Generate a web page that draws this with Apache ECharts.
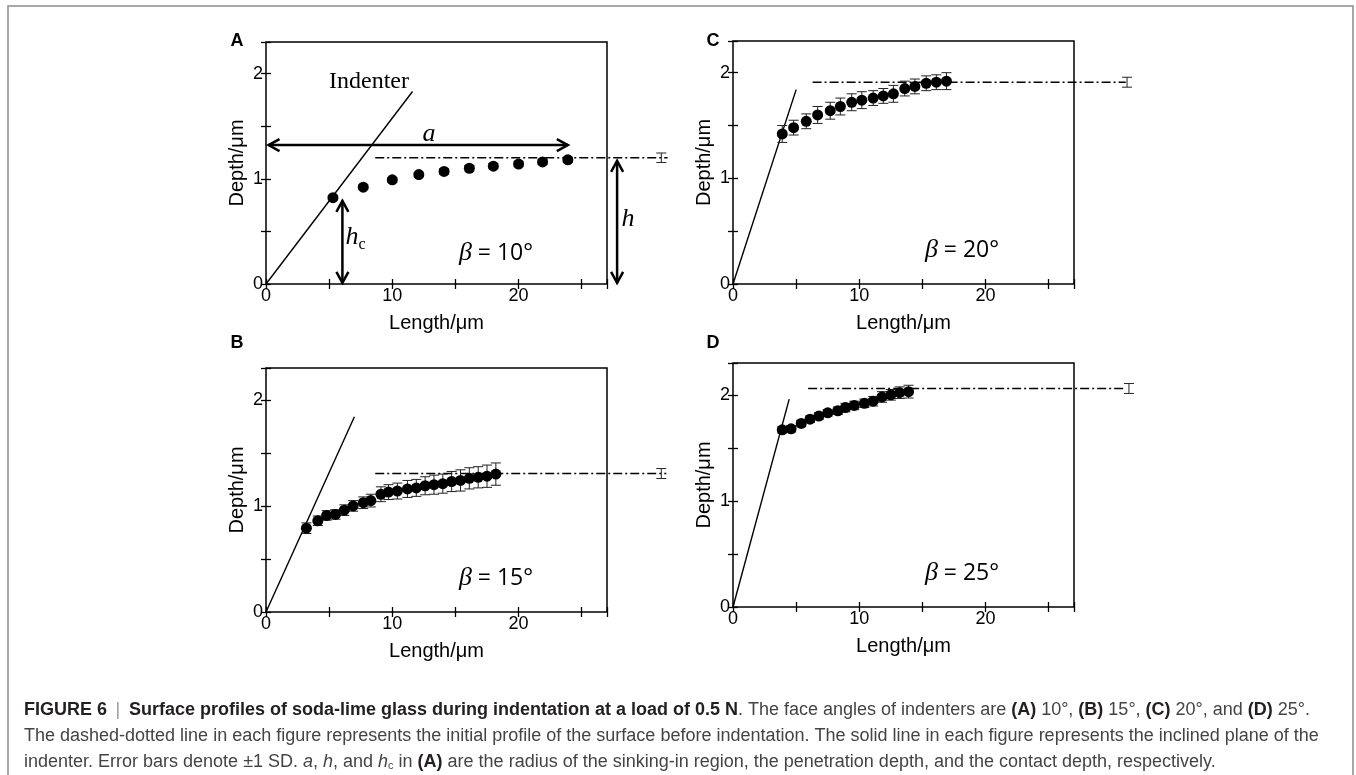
<!DOCTYPE html>
<html>
<head>
<meta charset="utf-8">
<script src="https://cdn.jsdelivr.net/npm/echarts@6/dist/echarts.min.js"></script>
<style>
  html, body { margin: 0; padding: 0; background: #fff; }
  #chart { width: 1356px; height: 775px; }
</style>
</head>
<body>
<div id="chart"></div>
<script>
// ---- data (x = Length/um, y = Depth/um) ----
const lenA = [5.3, 7.7, 10.0, 12.1, 14.1, 16.1, 18.0, 20.0, 21.9, 23.9]
const depA = [0.82, 0.92, 0.99, 1.04, 1.07, 1.10, 1.12, 1.14, 1.16, 1.18]
const sdA = [0.02, 0.02, 0.02, 0.02, 0.025, 0.025, 0.025, 0.025, 0.025, 0.025]

const lenB = [3.2, 4.1, 4.8, 5.5, 6.2, 6.9, 7.7, 8.3, 9.1, 9.7, 10.4, 11.2, 11.9, 12.6, 13.3, 14.0, 14.7, 15.4, 16.1, 16.8, 17.5, 18.2]
const depB = [0.79, 0.86, 0.91, 0.92, 0.96, 1.00, 1.03, 1.05, 1.11, 1.13, 1.14, 1.16, 1.17, 1.19, 1.20, 1.21, 1.23, 1.24, 1.26, 1.27, 1.28, 1.30]
const sdB = [0.05, 0.045, 0.045, 0.045, 0.05, 0.05, 0.055, 0.06, 0.07, 0.07, 0.075, 0.08, 0.08, 0.085, 0.09, 0.09, 0.095, 0.10, 0.10, 0.10, 0.105, 0.105]

const lenC = [3.9, 4.8, 5.8, 6.7, 7.7, 8.5, 9.4, 10.2, 11.1, 11.9, 12.7, 13.6, 14.4, 15.3, 16.1, 16.9]
const depC = [1.42, 1.48, 1.54, 1.60, 1.64, 1.68, 1.72, 1.74, 1.76, 1.78, 1.80, 1.85, 1.87, 1.90, 1.91, 1.92]
const sdC = [0.08, 0.07, 0.07, 0.08, 0.08, 0.08, 0.08, 0.08, 0.07, 0.07, 0.08, 0.07, 0.07, 0.07, 0.07, 0.08]

const lenD = [3.9, 4.6, 5.4, 6.1, 6.8, 7.5, 8.3, 8.9, 9.6, 10.4, 11.1, 11.8, 12.5, 13.2, 13.9]
const depD = [1.67, 1.68, 1.73, 1.77, 1.80, 1.83, 1.85, 1.88, 1.90, 1.92, 1.94, 1.98, 2.00, 2.02, 2.03]
const sdD = [0.03, 0.03, 0.03, 0.03, 0.03, 0.03, 0.035, 0.04, 0.04, 0.04, 0.045, 0.05, 0.05, 0.055, 0.06]

// indenter plane: from origin to this end point
const indenterEnd = { A: [11.6, 1.83], B: [7.0, 1.84], C: [5.0, 1.84], D: [4.45, 1.96] }
// initial surface (dash-dot): [xStart, xEnd, depth]
const surface = { A: [8.65, 31.8, 1.20], B: [8.65, 31.7, 1.305], C: [6.3, 31.1, 1.91], D: [5.95, 30.95, 2.06] }
// SD bar of the initial surface: [x, depth, sd]
const surfaceSd = { A: [31.3, 1.20, 0.045], B: [31.3, 1.305, 0.047], C: [31.2, 1.91, 0.047], D: [31.35, 2.06, 0.047] }
// double arrows in panel A: [x1, y1, x2, y2]
const arrowsA = [[0.2, 1.32, 23.9, 1.32], [6.05, 0.79, 6.05, 0.01], [27.8, 1.17, 27.8, 0.01]]

const xTicks = [0, 10, 20]
const yTicks = [0, 1, 2]
const angles = { A: '10°', B: '15°', C: '20°', D: '25°' }

const chart = echarts.init(document.getElementById('chart'))

const sans = '"Liberation Sans", Arial, sans-serif'
const serif = '"Liberation Serif", "Times New Roman", serif'

const panels = [
  { key: 'A', len: lenA, dep: depA, sd: sdA, grid: { left: 266, top: 42, width: 341, height: 242 } },
  { key: 'B', len: lenB, dep: depB, sd: sdB, grid: { left: 266, top: 368, width: 341, height: 244 } },
  { key: 'C', len: lenC, dep: depC, sd: sdC, grid: { left: 733, top: 41, width: 341, height: 243 } },
  { key: 'D', len: lenD, dep: depD, sd: sdD, grid: { left: 733, top: 363, width: 341, height: 244 } }
]

function errRender (params, api) {
  const x = api.value(0), y = api.value(1), e = api.value(2)
  const hi = api.coord([x, y + e])
  const lo = api.coord([x, y - e])
  const w = 5
  const st = { stroke: '#222', lineWidth: 1 }
  return {
    type: 'group',
    children: [
      { type: 'line', shape: { x1: hi[0], y1: hi[1], x2: lo[0], y2: lo[1] }, style: st },
      { type: 'line', shape: { x1: hi[0] - w, y1: hi[1], x2: hi[0] + w, y2: hi[1] }, style: st },
      { type: 'line', shape: { x1: lo[0] - w, y1: lo[1], x2: lo[0] + w, y2: lo[1] }, style: st }
    ]
  }
}

// dash-dotted initial surface, allowed to run past the frame
function surfaceRender (params, api) {
  const a = api.coord([api.value(0), api.value(2)])
  const b = api.coord([api.value(1), api.value(2)])
  return {
    type: 'line',
    shape: { x1: a[0], y1: a[1], x2: b[0], y2: b[1] },
    style: { stroke: '#000', lineWidth: 1.4, lineDash: [9, 3, 2, 3] }
  }
}

function arrowRender (params, api) {
  const p = api.coord([api.value(0), api.value(1)])
  const q = api.coord([api.value(2), api.value(3)])
  const dx = q[0] - p[0], dy = q[1] - p[1]
  const len = Math.hypot(dx, dy)
  const ux = dx / len, uy = dy / len, nx = -uy, ny = ux
  const L = 11, W = 6
  const head = (t, s) => [
    [t[0] - s * L * ux + W * nx, t[1] - s * L * uy + W * ny],
    [t[0], t[1]],
    [t[0] - s * L * ux - W * nx, t[1] - s * L * uy - W * ny]
  ]
  const st = { stroke: '#000', lineWidth: 2.5, fill: null }
  return {
    type: 'group',
    children: [
      { type: 'line', shape: { x1: p[0], y1: p[1], x2: q[0], y2: q[1] }, style: st },
      { type: 'polyline', shape: { points: head(q, 1) }, style: st },
      { type: 'polyline', shape: { points: head(p, -1) }, style: st }
    ]
  }
}

const tickStyle = { inside: true, length: 5, lineStyle: { color: '#000', width: 1.3 } }
const nameStyle = { color: '#000', fontSize: 20, fontFamily: sans }

const grids = []
const xAxes = []
const yAxes = []
const series = []

panels.forEach((p, g) => {
  grids.push(Object.assign({ show: true, borderColor: '#000', borderWidth: 1.5, backgroundColor: 'transparent', outerBoundsMode: 'none' }, p.grid))

  const xBase = { gridIndex: g, type: 'value', min: 0, max: 27, interval: 5, axisLine: { show: false }, axisTick: tickStyle, splitLine: { show: false } }
  xAxes.push(Object.assign({}, xBase, {
    position: 'bottom',
    axisLabel: { color: '#000', fontSize: 18, fontFamily: sans, margin: 3, formatter: v => xTicks.includes(v) ? String(v) : '' },
    name: 'Length/μm', nameLocation: 'middle', nameGap: 29, nameMoveOverlap: false, nameTextStyle: nameStyle
  }))
  xAxes.push(Object.assign({}, xBase, { position: 'top', axisLabel: { show: false } }))

  const yBase = { gridIndex: g, type: 'value', min: 0, max: 2.3, interval: 0.5, axisLine: { show: false }, axisTick: tickStyle, splitLine: { show: false } }
  yAxes.push(Object.assign({}, yBase, {
    position: 'left',
    axisLabel: { color: '#000', fontSize: 18, fontFamily: sans, margin: 3, formatter: v => yTicks.includes(v) ? String(v) : '' },
    name: 'Depth/μm', nameLocation: 'middle', nameGap: 19, nameMoveOverlap: false, nameTextStyle: nameStyle
  }))
  yAxes.push(Object.assign({}, yBase, { position: 'right', axisLabel: { show: false } }))

  const xi = 2 * g, yi = 2 * g

  series.push({
    type: 'custom', xAxisIndex: xi, yAxisIndex: yi, clip: false, silent: true, z: 2,
    renderItem: surfaceRender,
    encode: { x: [0, 1], y: 2 },
    data: [surface[p.key]]
  })
  series.push({
    type: 'line', xAxisIndex: xi, yAxisIndex: yi, symbol: 'none', silent: true, z: 2,
    lineStyle: { color: '#000', width: 1.4 },
    data: [[0, 0], indenterEnd[p.key]]
  })
  series.push({
    type: 'custom', xAxisIndex: xi, yAxisIndex: yi, clip: false, silent: true, z: 3,
    renderItem: errRender,
    encode: { x: 0, y: 1 },
    data: p.len.map((x, i) => [x, p.dep[i], p.sd[i]]).concat([surfaceSd[p.key]])
  })
  series.push({
    type: 'scatter', xAxisIndex: xi, yAxisIndex: yi, symbol: 'circle', symbolSize: 11, silent: true, z: 4,
    itemStyle: { color: '#000', opacity: 1 },
    data: p.len.map((x, i) => [x, p.dep[i]])
  })
  if (p.key === 'A') {
    series.push({
      type: 'custom', xAxisIndex: xi, yAxisIndex: yi, clip: false, silent: true, z: 5,
      renderItem: arrowRender,
      encode: { x: [0, 2], y: [1, 3] },
      data: arrowsA
    })
  }
})

function txt (x, y, text, style) {
  return { type: 'text', x: x, y: y, silent: true, style: Object.assign({ text: text, fill: '#000', align: 'center', verticalAlign: 'middle' }, style) }
}

const betaRich = { g: { fontFamily: serif, fontStyle: 'italic', fontSize: 26, fill: '#000' } }
const betaStyle = { fontFamily: '"Open Sans", sans-serif', fontSize: 23, rich: betaRich }

const capSize = 18
const capRich = {
  b: { fontWeight: 'bold', fill: '#231f20', fontSize: capSize, fontFamily: sans },
  i: { fontStyle: 'italic', fill: '#444', fontSize: capSize, fontFamily: sans },
  sub: { fill: '#444', fontSize: 11, fontFamily: sans, verticalAlign: 'bottom', padding: [7, 0, 0, 0] },
  sep: { fill: '#999', fontSize: capSize, fontFamily: sans }
}
const capStyle = { fill: '#444', fontSize: capSize, fontFamily: sans, align: 'left', rich: capRich }

const graphics = [
  { type: 'rect', silent: true, shape: { x: 8, y: 6, width: 1345, height: 820 }, style: { fill: null, stroke: '#8c8c8c', lineWidth: 1.5 } },
  // panel letters
  txt(237, 41, 'A', { fontFamily: sans, fontWeight: 'bold', fontSize: 18 }),
  txt(237, 343, 'B', { fontFamily: sans, fontWeight: 'bold', fontSize: 18 }),
  txt(713, 41, 'C', { fontFamily: sans, fontWeight: 'bold', fontSize: 18 }),
  txt(713, 343, 'D', { fontFamily: sans, fontWeight: 'bold', fontSize: 18 }),
  // beta labels
  txt(496, 253, '{g|β} = ' + angles.A, betaStyle),
  txt(496, 578, '{g|β} = ' + angles.B, betaStyle),
  txt(962, 250, '{g|β} = ' + angles.C, betaStyle),
  txt(962, 573, '{g|β} = ' + angles.D, betaStyle),
  // annotations in panel A
  txt(369, 82, 'Indenter', { fontFamily: serif, fontSize: 24 }),
  txt(429, 134, 'a', { fontFamily: serif, fontStyle: 'italic', fontSize: 26 }),
  txt(628, 219, 'h', { fontFamily: serif, fontStyle: 'italic', fontSize: 26 }),
  txt(352, 237, 'h', { fontFamily: serif, fontStyle: 'italic', fontSize: 26 }),
  txt(362, 245, 'c', { fontFamily: serif, fontSize: 16 }),
  // caption
  { type: 'text', x: 24, y: 710, silent: true, style: Object.assign({ verticalAlign: 'middle', text: '{b|FIGURE 6} {sep|\u2009|\u2009} {b|Surface profiles of soda-lime glass during indentation at a load of 0.5 N}. The face angles of indenters are {b|(A)} 10°, {b|(B)} 15°, {b|(C)} 20°, and {b|(D)} 25°.' }, capStyle) },
  { type: 'text', x: 24, y: 736, silent: true, style: Object.assign({ verticalAlign: 'middle', text: 'The dashed-dotted line in each figure represents the initial profile of the surface before indentation. The solid line in each figure represents the inclined plane of the' }, capStyle) },
  { type: 'text', x: 24, y: 762, silent: true, style: Object.assign({ verticalAlign: 'middle', text: 'indenter. Error bars denote ±1 SD. {i|a}, {i|h}, and {i|h}{sub|c} in {b|(A)} are the radius of the sinking-in region, the penetration depth, and the contact depth, respectively.' }, capStyle) }
]

const option = {
  animation: false,
  backgroundColor: '#fff',
  grid: grids,
  xAxis: xAxes,
  yAxis: yAxes,
  series: series,
  graphic: graphics
}

chart.setOption(option)
</script>
</body>
</html>
